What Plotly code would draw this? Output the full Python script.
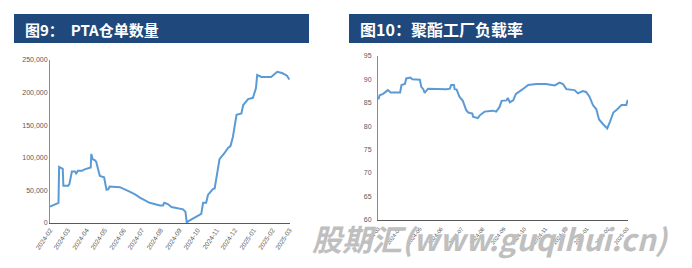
import plotly.graph_objects as go

W, H = 692, 268

# ---- Data: PTA warehouse receipts (left) ----
pta_dates = ["2024-02-01", "2024-02-14", "2024-02-15", "2024-02-16", "2024-02-20", "2024-02-22",
             "2024-02-23", "2024-03-02", "2024-03-04", "2024-03-08", "2024-03-13", "2024-03-15",
             "2024-03-18", "2024-03-25", "2024-03-28", "2024-04-06", "2024-04-08", "2024-04-09",
             "2024-04-11", "2024-04-15", "2024-04-17", "2024-04-23", "2024-04-30", "2024-05-04",
             "2024-05-07", "2024-05-09", "2024-05-26", "2024-06-11", "2024-06-20", "2024-06-28",
             "2024-07-14", "2024-07-31", "2024-08-05", "2024-08-07", "2024-08-13", "2024-08-19",
             "2024-09-07", "2024-09-11", "2024-09-13", "2024-09-18", "2024-10-05", "2024-10-07",
             "2024-10-10", "2024-10-15", "2024-10-18", "2024-10-26", "2024-10-29", "2024-11-01",
             "2024-11-06", "2024-11-14", "2024-11-20", "2024-11-24", "2024-11-28", "2024-12-04",
             "2024-12-12", "2024-12-15", "2024-12-23", "2024-12-31", "2025-01-05", "2025-01-07",
             "2025-01-14", "2025-01-30", "2025-02-09", "2025-02-17", "2025-02-25", "2025-03-01"]
pta_values = [25000, 30000, 31000, 86000, 84000, 83000,
              57000, 57000, 60000, 79000, 79000, 76000,
              80000, 80000, 82000, 84000, 85000, 106000,
              98000, 96000, 94000, 72000, 70000, 51000,
              52000, 56000, 55000, 48000, 44000, 39000,
              31000, 27000, 27000, 31000, 29000, 24500,
              21000, 17000, 1000, 4000, 12000, 14000,
              31000, 31000, 43000, 52000, 53000, 71000,
              98000, 107000, 115000, 118000, 132000, 166000,
              168000, 181000, 190000, 192000, 207000, 227000,
              224000, 224000, 232000, 230000, 226000, 220000]

# ---- Data: polyester plant load rate (right) ----
load_dates = ["2024-03-01", "2024-03-03", "2024-03-08", "2024-03-13", "2024-03-15", "2024-03-19",
              "2024-04-02", "2024-04-04", "2024-04-09", "2024-04-11", "2024-04-17", "2024-04-20",
              "2024-05-01", "2024-05-03", "2024-05-06", "2024-05-08", "2024-05-13", "2024-06-09",
              "2024-06-14", "2024-06-16", "2024-06-20", "2024-06-21", "2024-06-24", "2024-06-28",
              "2024-07-03", "2024-07-08", "2024-07-11", "2024-07-17", "2024-07-18", "2024-07-25",
              "2024-07-28", "2024-08-04", "2024-08-16", "2024-08-21", "2024-08-26", "2024-08-29",
              "2024-09-05", "2024-09-07", "2024-09-10", "2024-09-15", "2024-09-19", "2024-09-29",
              "2024-10-07", "2024-10-19", "2024-11-02", "2024-11-15", "2024-11-22", "2024-11-27",
              "2024-12-02", "2024-12-14", "2024-12-19", "2024-12-26", "2024-12-31", "2025-01-05",
              "2025-01-10", "2025-01-15", "2025-01-19", "2025-01-25", "2025-01-31", "2025-02-04",
              "2025-02-09", "2025-02-14", "2025-02-18", "2025-02-21", "2025-02-28", "2025-03-02"]
load_values = [85.7, 86.6, 86.9, 87.4, 87.7, 87.2,
               87.2, 88.8, 89.0, 90.2, 90.4, 90.0,
               89.9, 88.4, 87.9, 87.1, 88.0, 87.9,
               88.0, 88.8, 88.8, 87.9, 87.8, 86.3,
               85.4, 83.4, 82.9, 82.7, 82.0, 81.7,
               82.3, 83.1, 83.3, 83.1, 84.1, 85.4,
               85.5, 86.0, 85.1, 85.5, 86.9, 87.9,
               88.8, 89.0, 89.0, 88.7, 89.3, 89.0,
               87.9, 87.7, 87.0, 87.5, 87.3, 86.3,
               84.5, 83.6, 81.4, 80.4, 79.5, 80.9,
               82.9, 83.5, 84.2, 84.5, 84.5, 85.6]

left_title = "图9：  PTA仓单数量"
right_title = "图10：聚酯工厂负载率"
watermark = "股期汇(www.guqihui.cn)"

left_yticks = [0, 50000, 100000, 150000, 200000, 250000]
left_yticklabels = ["0", "50,000", "100,000", "150,000", "200,000", "250,000"]
right_yticks = [60, 65, 70, 75, 80, 85, 90, 95]

LINE = "#5B9BD5"
BAR = "#1F497D"
TICK = "#595959"


def px(x):
    return x / W


def py(y):
    return 1 - y / H


fig = go.Figure()
fig.add_trace(go.Scatter(x=pta_dates, y=pta_values, mode="lines",
                         line=dict(color=LINE, width=2), xaxis="x", yaxis="y",
                         showlegend=False))
fig.add_trace(go.Scatter(x=load_dates, y=load_values, mode="lines",
                         line=dict(color=LINE, width=2), xaxis="x2", yaxis="y2",
                         showlegend=False))

tickfont = dict(family="Liberation Sans", size=7, color=TICK)

fig.update_layout(
    template="none",
    width=W, height=H, margin=dict(l=0, r=0, t=0, b=0),
    paper_bgcolor="white", plot_bgcolor="white",
    xaxis=dict(domain=[px(50), px(290)], anchor="y", type="date", automargin=False,
               range=["2024-02-01", "2025-03-02"], tick0="2024-02-01", dtick="M1",
               tickformat="%Y-%m", tickangle=-56, showgrid=False, zeroline=False,
               showline=True, linecolor="#595959", linewidth=1, ticks="",
               tickfont=dict(family="Liberation Sans", size=6.5, color=TICK)),
    yaxis=dict(domain=[py(223), py(60)], anchor="x", range=[0, 250000], automargin=False,
               tickvals=left_yticks, ticktext=left_yticklabels, showgrid=False,
               zeroline=False, showline=True, linecolor="#8c8c8c", linewidth=1,
               ticks="", tickfont=tickfont),
    xaxis2=dict(domain=[px(378), px(628)], anchor="y2", type="date", automargin=False,
                range=["2024-02-29 12:00", "2025-03-02 12:00"], tick0="2024-03-01",
                dtick="M1", tickformat="%Y-%m", tickangle=-52, showgrid=False,
                zeroline=False, showline=True, linecolor="#595959", linewidth=1,
                ticks="", ticklabelstandoff=3,
                tickfont=dict(family="Liberation Sans", size=5.5, color=TICK)),
    yaxis2=dict(domain=[py(219.5), py(56)], anchor="x2", range=[60, 95], automargin=False,
                tickvals=right_yticks, showgrid=False, zeroline=False, showline=True,
                linecolor="#8c8c8c", linewidth=1, ticks="", ticklabelstandoff=4,
                tickfont=tickfont),
)

# title bars
for x0, x1 in [(14, 309), (349, 652)]:
    fig.add_shape(type="rect", xref="paper", yref="paper",
                  x0=px(x0), x1=px(x1), y0=py(43), y1=py(14),
                  fillcolor=BAR, line=dict(width=0), layer="below")

fig.add_annotation(x=px(23), y=py(29), xref="paper", yref="paper", xanchor="left",
                   yanchor="middle", showarrow=False, text="<b>" + left_title + "</b>",
                   font=dict(family="Noto Sans CJK SC", size=15, color="white"))
fig.add_annotation(x=px(358), y=py(29), xref="paper", yref="paper", xanchor="left",
                   yanchor="middle", showarrow=False, text="<b>" + right_title + "</b>",
                   font=dict(family="Noto Sans CJK SC", size=16, color="white"))

# watermark
fig.add_annotation(x=px(310), y=py(238), xref="paper", yref="paper", xanchor="left",
                   yanchor="middle", showarrow=False,
                   text="<b><i>" + watermark + "</i></b>",
                   font=dict(family="Noto Sans CJK SC", size=30, color="#bfbfbf"))

fig.write_html("out.html")
